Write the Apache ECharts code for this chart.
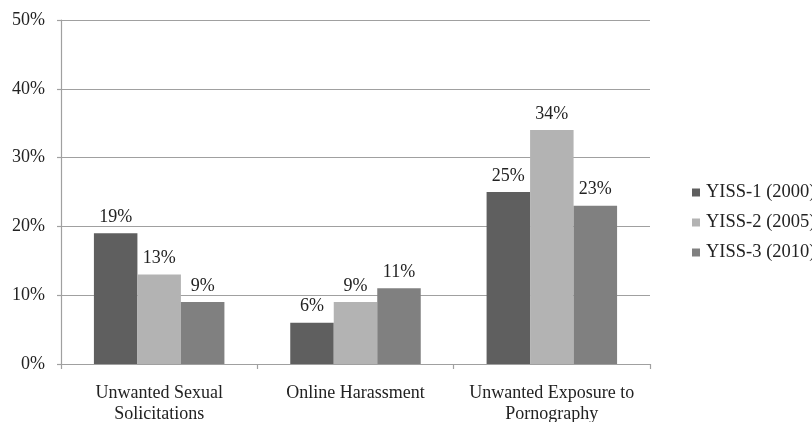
<!DOCTYPE html>
<html>
<head>
<meta charset="utf-8">
<script src="https://cdn.jsdelivr.net/npm/echarts@6/dist/echarts.min.js"></script>
<style>html,body{margin:0;padding:0;background:#fff;}#c{width:812px;height:422px;}</style>
</head>
<body>
<div id="c"></div>
<script>
const categories = ["Unwanted Sexual\nSolicitations", "Online Harassment", "Unwanted Exposure to\nPornography"];
const seriesNames = ["YISS-1 (2000)", "YISS-2 (2005)", "YISS-3 (2010)"];
const yiss1 = [19, 6, 25];
const yiss2 = [13, 9, 34];
const yiss3 = [9, 11, 23];
const colors = ["#5f5f5f", "#b3b3b3", "#808080"];
const yTicks = [0, 10, 20, 30, 40, 50];

const font = "'Liberation Serif', 'Times New Roman', serif";
const chart = echarts.init(document.getElementById('c'), null, {renderer: 'canvas'});
const values = [yiss1, yiss2, yiss3];
chart.setOption({
  animation: false,
  backgroundColor: '#ffffff',
  textStyle: {fontFamily: font},
  grid: {left: 61, right: 162, top: 20, bottom: 58, containLabel: false, outerBoundsMode: 'none'},
  legend: {
    orient: 'vertical', left: 687, top: 178, width: 200,
    itemWidth: 8, itemHeight: 8, itemGap: 11,
    icon: 'rect',
    textStyle: {fontFamily: font, fontSize: 18.5, color: '#222', lineHeight: 19, overflow: 'none', width: 130, padding: [0, 0, 0, 1]},
    data: seriesNames
  },
  xAxis: {
    type: 'category',
    data: categories,
    axisLine: {lineStyle: {color: '#a0a0a0', width: 1.2}},
    axisTick: {show: true, length: 5, lineStyle: {color: '#a0a0a0', width: 1.2}},
    axisLabel: {fontFamily: font, fontSize: 18, color: '#222', margin: 19, lineHeight: 21, interval: 0}
  },
  yAxis: {
    type: 'value', min: 0, max: 50, interval: 10,
    axisLine: {show: true, lineStyle: {color: '#a0a0a0', width: 1.2}},
    axisTick: {show: true, length: 4, lineStyle: {color: '#a0a0a0', width: 1.2}},
    splitLine: {lineStyle: {color: '#a0a0a0', width: 1.2}},
    axisLabel: {fontFamily: font, fontSize: 18, color: '#222', margin: 16,
      formatter: v => yTicks.includes(v) ? v + '%' : ''}
  },
  series: seriesNames.map((n, i) => ({
    name: n, type: 'bar', data: values[i],
    barWidth: 43.5, barGap: '0%', barCategoryGap: '33%',
    itemStyle: {color: colors[i]},
    label: {show: true, position: 'top', distance: 7, formatter: '{c}%',
      fontFamily: font, fontSize: 18, color: '#222'}
  }))
});
</script>
</body>
</html>
